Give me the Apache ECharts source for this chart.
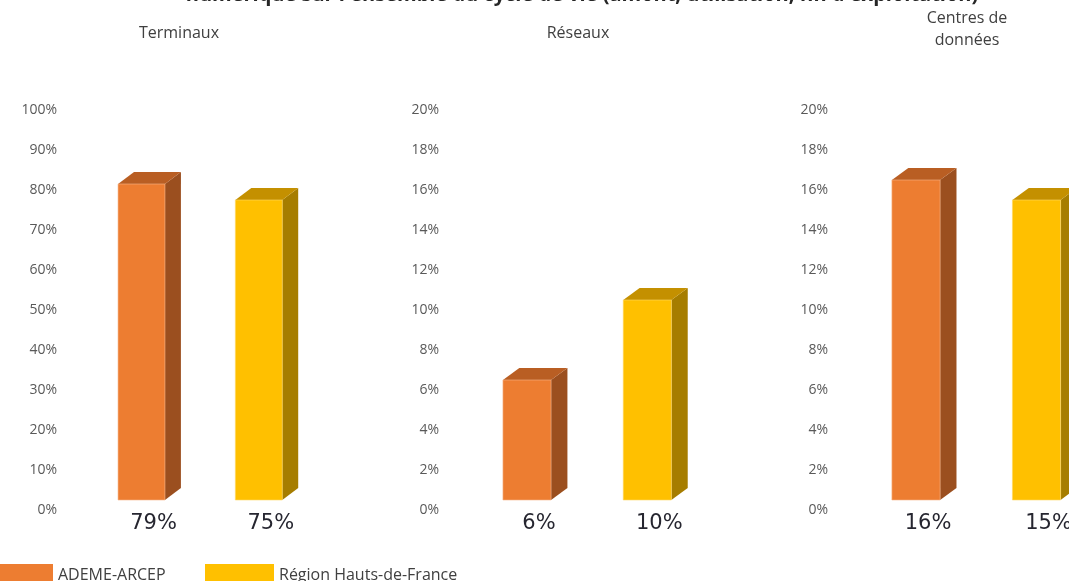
<!DOCTYPE html>
<html>
<head>
<meta charset="utf-8">
<script src="https://cdn.jsdelivr.net/npm/echarts@6/dist/echarts.min.js"></script>
<style>
  html, body { margin: 0; padding: 0; background: #ffffff; }
  #chart { width: 1069px; height: 581px; }
</style>
</head>
<body>
<div id="chart"></div>
<script>
// Share of digital greenhouse emissions by segment, two sources compared
const chartTitle = "numérique sur l'ensemble du cycle de vie (amont, utilisation, fin d'exploitation)";
const segments = ['Terminaux', 'Réseaux', 'Centres de\ndonnées'];
const sourceNames = ['ADEME-ARCEP', 'Région Hauts-de-France'];
const ademeArcep = [79, 6, 16];
const regionHdf = [75, 10, 15];
const axisMax = [100, 20, 20];
const axisStep = [10, 2, 2];

// Face colours for each source: front, top, side
const palette = [
  { front: '#ED7D31', top: '#B95E23', side: '#9B4F1F', edge: '#F6B68A' },
  { front: '#FFC000', top: '#C49000', side: '#A67D00', edge: '#FFD966' }
];

const FONT = "'Open Sans', 'DejaVu Sans', sans-serif";

// Each panel's grid spans from the first bar centre to the second one
// (boundaryGap off), so the third panel may run past the right edge.
const panels = [
  { left: 141.5, width: 117.3, labelMargin: 84.5 },
  { left: 527, width: 120.3, labelMargin: 88 },
  { left: 916, width: 120.5, labelMargin: 88 }
];
const gridTop = 110, gridHeight = 400;

function make3dBar(colors) {
  return function (params, api) {
    const xi = api.value(0);
    const v = api.value(1);
    const base = api.coord([xi, 0]);
    const top = api.coord([xi, v]);
    const step = api.size([1, 0])[0];
    const w = step * 0.4;
    const dx = step * 0.136;
    const dy = 12;
    const lift = 10;
    const x0 = base[0] - w / 2, x1 = base[0] + w / 2;
    const yb = base[1] - lift, yt = top[1] - lift;
    return {
      type: 'group',
      children: [
        {
          type: 'polygon',
          shape: { points: [[x1, yt], [x1 + dx, yt - dy], [x1 + dx, yb - dy], [x1, yb]] },
          style: { fill: colors.side }
        },
        {
          type: 'polygon',
          shape: { points: [[x0, yt], [x1, yt], [x1 + dx, yt - dy], [x0 + dx, yt - dy]] },
          style: { fill: colors.top }
        },
        {
          type: 'rect',
          shape: { x: x0, y: yt, width: w, height: yb - yt },
          style: { fill: colors.front, stroke: colors.edge, lineWidth: 0.6 }
        },
        {
          type: 'text',
          x: base[0] + 12,
          y: base[1] + 14,
          style: {
            text: Math.round(v) + '%',
            fill: '#262630',
            font: "21px 'DejaVu Sans', sans-serif",
            align: 'center',
            verticalAlign: 'middle'
          }
        }
      ]
    };
  };
}

const grids = [], xAxes = [], yAxes = [], series = [];
segments.forEach(function (seg, i) {
  grids.push({ left: panels[i].left, width: panels[i].width, top: gridTop, height: gridHeight });
  xAxes.push({
    type: 'category', gridIndex: i, data: sourceNames, show: false, boundaryGap: false
  });
  yAxes.push({
    type: 'value', gridIndex: i, min: 0, max: axisMax[i], interval: axisStep[i],
    axisLine: { show: false }, axisTick: { show: false }, splitLine: { show: false },
    axisLabel: {
      formatter: '{value}%', color: '#595959', fontSize: 14, fontFamily: FONT,
      margin: panels[i].labelMargin
    }
  });
  [ademeArcep, regionHdf].forEach(function (vals, s) {
    series.push({
      type: 'custom',
      name: sourceNames[s],
      xAxisIndex: i,
      yAxisIndex: i,
      clip: false,
      itemStyle: { color: palette[s].front },
      renderItem: make3dBar(palette[s]),
      encode: { x: 0, y: 1 },
      data: [[s, vals[i]]]
    });
  });
});

const panelTitleX = [179, 578, 967];
const graphics = [
  {
    type: 'text', x: 582, y: -5,
    style: {
      text: chartTitle, fill: '#262626',
      font: "bold 20px 'Open Sans', sans-serif",
      align: 'center', verticalAlign: 'middle'
    }
  }
];
segments.forEach(function (seg, i) {
  graphics.push({
    type: 'text', x: panelTitleX[i], y: seg.indexOf('\n') >= 0 ? 29 : 33,
    style: {
      text: seg, fill: '#404040', fontSize: 16, fontFamily: FONT,
      lineHeight: 22, align: 'center', verticalAlign: 'middle'
    }
  });
});

const chart = echarts.init(document.getElementById('chart'));
chart.setOption({
  animation: false,
  backgroundColor: '#ffffff',
  grid: grids,
  xAxis: xAxes,
  yAxis: yAxes,
  legend: [
    {
      left: 0, top: 564, padding: 0, icon: 'rect', itemWidth: 53, itemHeight: 22,
      data: [sourceNames[0]],
      textStyle: { color: '#404040', fontSize: 16, fontFamily: FONT }
    },
    {
      left: 205, top: 564, padding: 0, icon: 'rect', itemWidth: 69, itemHeight: 22,
      data: [sourceNames[1]],
      textStyle: { color: '#404040', fontSize: 16, fontFamily: FONT }
    }
  ],
  graphic: graphics,
  series: series
});
</script>
</body>
</html>
